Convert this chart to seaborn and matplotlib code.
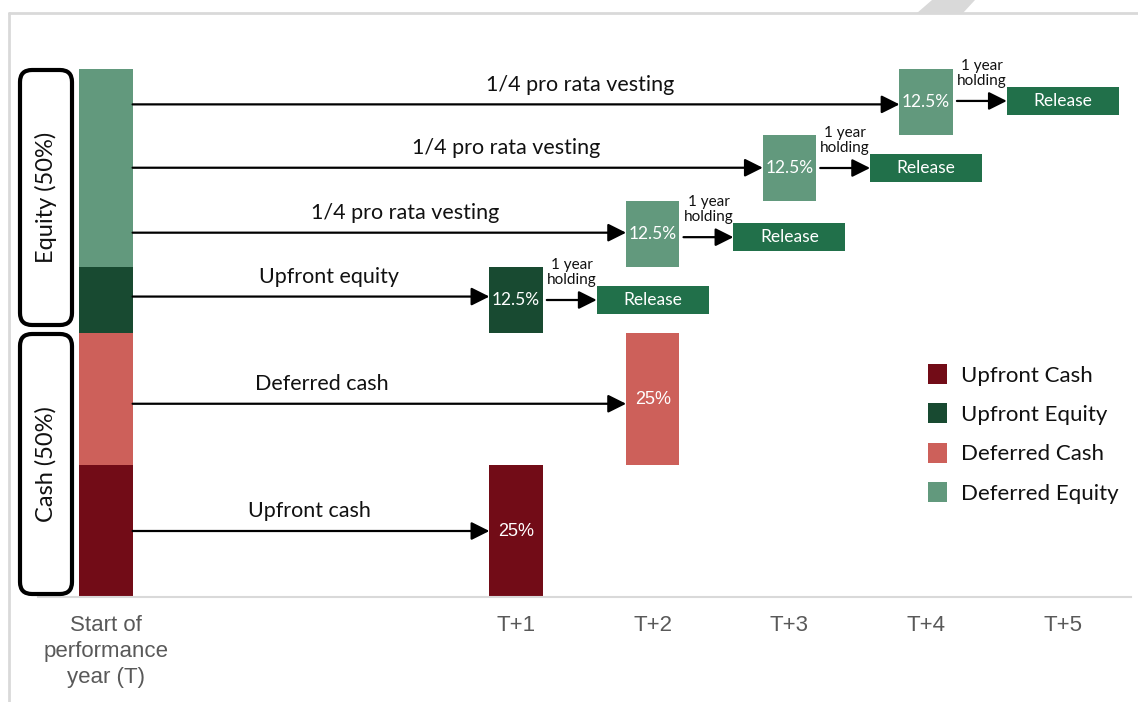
import matplotlib
matplotlib.use("Agg")
import matplotlib.pyplot as plt
import seaborn as sns
import pandas as pd
from matplotlib.patches import Patch, FancyBboxPatch, Polygon
from matplotlib.lines import Line2D

# ---------------- data ----------------
categories = ["T", "gap1", "gap2", "T+1", "T+2", "T+3", "T+4", "T+5"]
tick_labels = ["Start of\nperformance\nyear (T)", "", "", "T+1", "T+2", "T+3", "T+4", "T+5"]

components = ["Upfront Cash", "Deferred Cash", "Upfront Equity", "Deferred Equity"]
component_share = [25, 25, 12.5, 37.5]
legend_order = ["Upfront Cash", "Upfront Equity", "Deferred Cash", "Deferred Equity"]

payout_component = ["Upfront Cash", "Deferred Cash", "Upfront Equity",
                    "Deferred Equity", "Deferred Equity", "Deferred Equity"]
payout_year = ["T+1", "T+2", "T+1", "T+2", "T+3", "T+4"]
payout_bottom = [0, 25, 50, 62.5, 75, 87.5]
payout_share = [25, 25, 12.5, 12.5, 12.5, 12.5]
payout_label = ["25%", "25%", "12.5%", "12.5%", "12.5%", "12.5%"]

arrow_label = ["Upfront cash", "Deferred cash", "Upfront equity",
               "1/4 pro rata vesting", "1/4 pro rata vesting", "1/4 pro rata vesting"]
arrow_level = [12.5, 36.6, 56.9, 69.0, 81.3, 93.3]

release_from = ["T+1", "T+2", "T+3", "T+4"]
release_year = ["T+2", "T+3", "T+4", "T+5"]
release_bottom = [53.6, 65.5, 78.6, 91.3]
release_height = [5.3, 5.3, 5.3, 5.3]
holding_label = "1 year\nholding"

colors = {
    "Upfront Cash": "#720C17",
    "Upfront Equity": "#184A31",
    "Deferred Cash": "#CD605A",
    "Deferred Equity": "#62997D",
}
release_color = "#21704A"

# ---------------- style ----------------
sns.set_theme(style="white")
plt.rcParams["font.family"] = ["Lato", "DejaVu Sans"]

W, H = 1138, 702
fig = plt.figure(figsize=(W / 100, H / 100), dpi=100)
ax = fig.add_axes([37.6 / W, (H - 597) / H, 1093.6 / W, 554.4 / H])

pos = {c: i for i, c in enumerate(categories)}
BAR_W = 0.39
REL_W = 0.82

# stacked starting bar
bottom = 0
for comp, share in zip(components, component_share):
    df = pd.DataFrame({"cat": ["T"], "val": [share]})
    sns.barplot(data=df, x="cat", y="val", order=categories, color=colors[comp],
                saturation=1, width=BAR_W, bottom=bottom, ax=ax, errorbar=None,
                linewidth=0)
    bottom += share

# payout bars
for comp, yr, b, h, lab in zip(payout_component, payout_year, payout_bottom,
                               payout_share, payout_label):
    df = pd.DataFrame({"cat": [yr], "val": [h]})
    sns.barplot(data=df, x="cat", y="val", order=categories, color=colors[comp],
                saturation=1, width=BAR_W, bottom=b, ax=ax, errorbar=None,
                linewidth=0)
    if lab == "25%":
        ax.text(pos[yr], b + h / 2, lab, ha="center", va="center", color="white",
                fontsize=13, family=["Liberation Sans", "DejaVu Sans"])
    else:
        ax.text(pos[yr], b + h / 2, lab, ha="center", va="center", color="white",
                fontsize=12.5)

# release boxes
for yr, b, h in zip(release_year, release_bottom, release_height):
    df = pd.DataFrame({"cat": [yr], "val": [h]})
    sns.barplot(data=df, x="cat", y="val", order=categories, color=release_color,
                saturation=1, width=REL_W, bottom=b, ax=ax, errorbar=None,
                linewidth=0)
    ax.text(pos[yr], b + h / 2, "Release", ha="center", va="center",
            color="white", fontsize=12.5)

# long arrows from the start bar
label_x = [1.49, 1.58, 1.63, 2.19, 2.93, 3.47]
arrow_kw = dict(arrowstyle="-|>,head_length=1.1,head_width=0.55", color="black",
                lw=1.6, shrinkA=0, shrinkB=0, mutation_scale=10)
for lab, lvl, yr, lx in zip(arrow_label, arrow_level, payout_year, label_x):
    ax.annotate("", xy=(pos[yr] - BAR_W / 2, lvl), xytext=(BAR_W / 2, lvl),
                arrowprops=arrow_kw)
    ax.text(lx, lvl + 3.7, lab, ha="center", va="center", fontsize=15.5,
            color="#111111")

# holding arrows
for fr, to, b, h in zip(release_from, release_year, release_bottom, release_height):
    lvl = b + h / 2
    x0 = pos[fr] + BAR_W / 2 + 0.03
    x1 = pos[to] - REL_W / 2
    ax.annotate("", xy=(x1, lvl), xytext=(x0, lvl), arrowprops=arrow_kw)
    ax.text((x0 + x1) / 2, lvl + 5.2, holding_label, ha="center", va="center",
            fontsize=11, linespacing=1.1, color="#111111")

# axes cosmetics
ax.set_xlim(-0.5, 7.5)
ax.set_ylim(0, 105)
ax.set_xticks(range(len(categories)))
ax.set_xticklabels(tick_labels, family=["Liberation Sans", "DejaVu Sans"],
                   fontsize=16, color="#595959", linespacing=1.32)
ax.tick_params(axis="x", length=0, pad=13)
ax.set_yticks([])
ax.set_xlabel("")
ax.set_ylabel("")
for s in ["top", "right", "left"]:
    ax.spines[s].set_visible(False)
ax.spines["bottom"].set_color("#D9D9D9")
ax.spines["bottom"].set_linewidth(1.5)

# legend
handles = [Patch(facecolor=colors[c], edgecolor="none", label=c) for c in legend_order]
leg = ax.legend(handles=handles, loc="upper left",
                bbox_to_anchor=(928 / W, 1 - 364 / H), bbox_transform=fig.transFigure,
                frameon=False, fontsize=16, handlelength=0.85, handleheight=1.0,
                handletextpad=0.65, labelspacing=0.8, borderpad=0, borderaxespad=0)
for t in leg.get_texts():
    t.set_color("#111111")

# group label boxes (in figure pixels -> inches)
def px_box(x0, y0, x1, y1):
    return FancyBboxPatch((x0 / 100, (H - y1) / 100), (x1 - x0) / 100, (y1 - y0) / 100,
                          boxstyle="round,pad=0,rounding_size=0.12",
                          transform=fig.dpi_scale_trans, facecolor="white",
                          edgecolor="black", lw=3, zorder=5)

fig.add_artist(px_box(20, 70, 72, 325))
fig.add_artist(px_box(20, 334, 72, 594))
fig.text(46 / W, 1 - 197 / H, "Equity (50%)", rotation=90, ha="center", va="center",
         fontsize=17, color="#111111", zorder=6)
fig.text(46 / W, 1 - 464 / H, "Cash (50%)", rotation=90, ha="center", va="center",
         fontsize=17, color="#111111", zorder=6)

# page frame
fig.add_artist(Line2D([9 / W, 1], [1 - 13 / H, 1 - 13 / H], transform=fig.transFigure,
                      color="#D9D9D9", lw=2))
fig.add_artist(Line2D([9 / W, 9 / W], [0, 1 - 13 / H], transform=fig.transFigure,
                      color="#D9D9D9", lw=2))
fig.add_artist(Polygon([[917 / W, 1 - 13 / H], [963 / W, 1 - 13 / H], [975 / W, 1], [932 / W, 1]],
                       closed=True, transform=fig.transFigure, facecolor="#D9D9D9",
                       edgecolor="none"))

fig.savefig("out.png", dpi=100)
